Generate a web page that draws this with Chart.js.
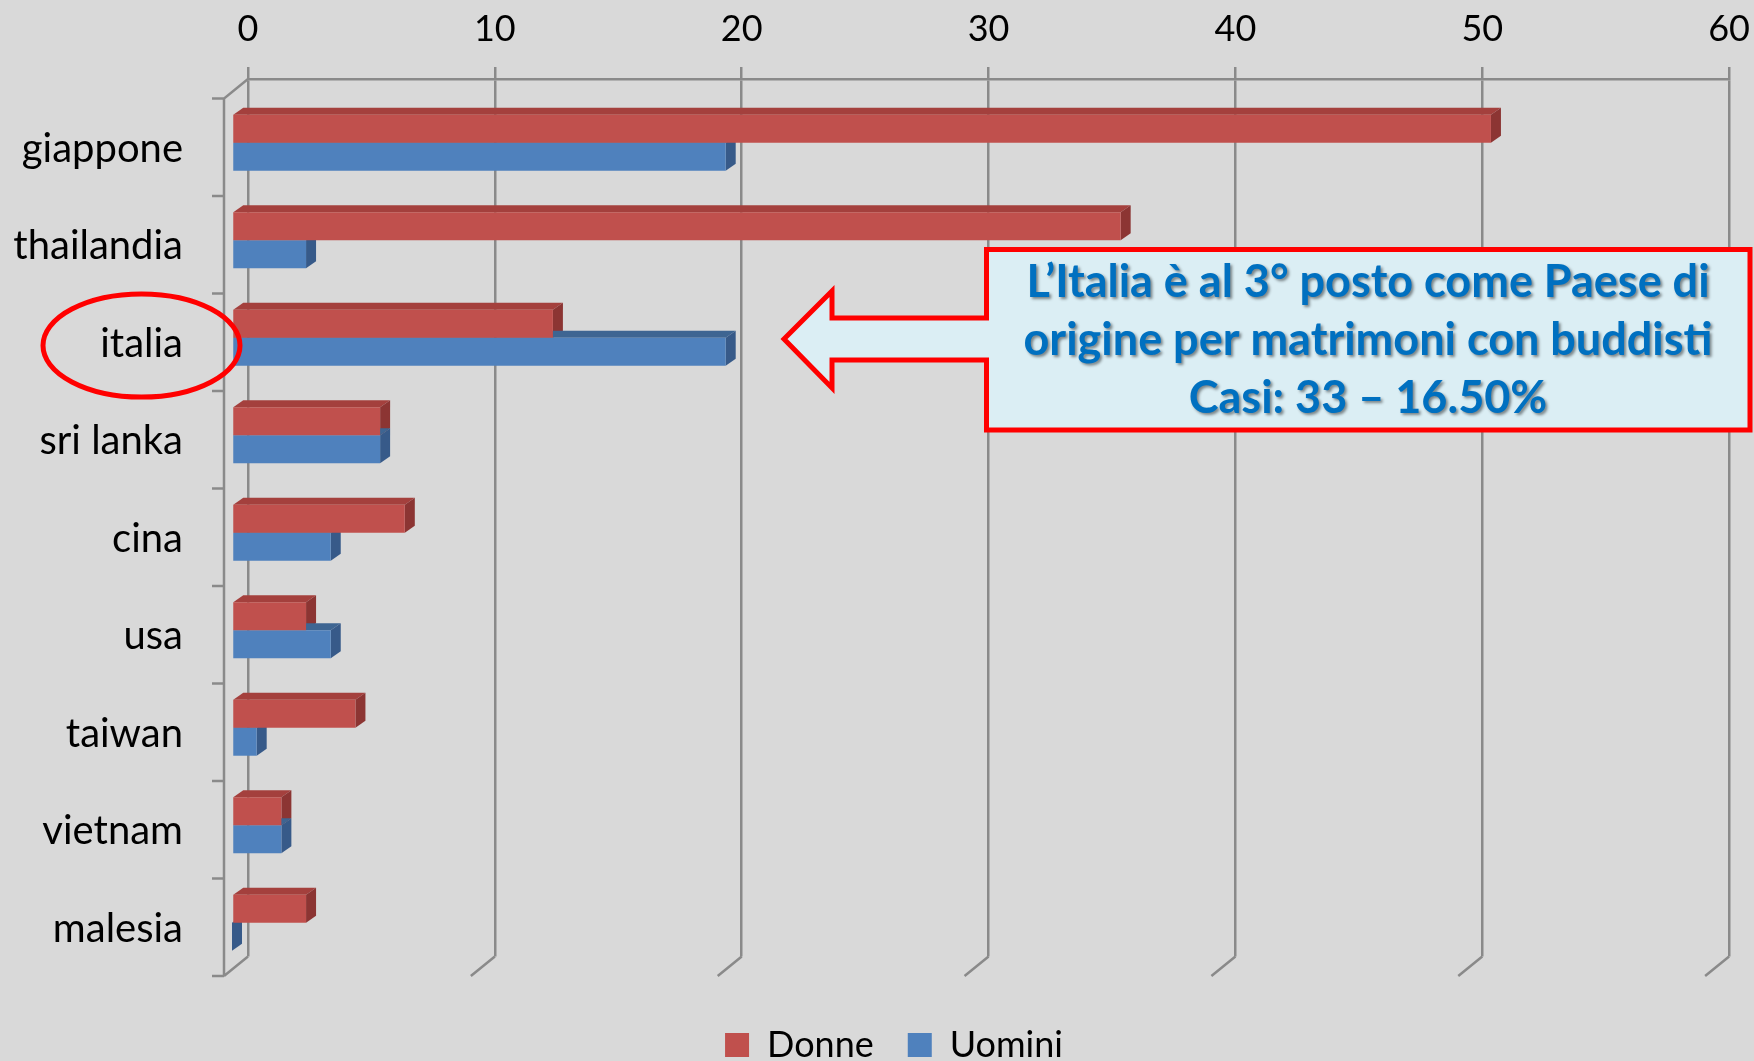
<!DOCTYPE html>
<html>
<head>
<meta charset="utf-8">
<script src="https://cdn.jsdelivr.net/npm/chart.js@4.4.1/dist/chart.umd.min.js"></script>
<style>
  html, body { margin: 0; padding: 0; background: #d9d9d9; }
  #wrap { width: 1754px; height: 1061px; position: relative; }
</style>
</head>
<body>
<div id="wrap"><canvas id="grafico"></canvas></div>
<script>
// dati
const paesi = ['giappone', 'thailandia', 'italia', 'sri lanka', 'cina', 'usa', 'taiwan', 'vietnam', 'malesia'];
const donne = [51, 36, 13, 6, 7, 3, 5, 2, 3];
const uomini = [20, 3, 20, 6, 4, 4, 1, 2, 0];
const tickValori = [0, 10, 20, 30, 40, 50, 60];
const nota = ['L’Italia è al 3° posto come Paese di', 'origine per matrimoni con buddisti', 'Casi: 33 – 16.50%'];

const GRIGIO = '#8a8a8a';
const PARETE = { x: -24, y: 19.5 };  // spostamento parete frontale
const BARRA = { x: -16, y: 15 };     // faccia frontale delle barre
const SPESSORE = { x: 10, y: -7 };   // profondità delle barre
const coloriTop = ['#a4403d', '#3e6592'];
const coloriLato = ['#8c3533', '#375a89'];

// effetto 3D: pareti + facce superiori/laterali
const prospettiva = {
    id: 'prospettiva',
    afterLayout(chart) {
        // sposta la legenda verso destra come nell'originale
        chart.legend.left += 29;
        chart.legend.right += 29;
    },
    beforeDatasetsDraw(chart) {
        const { ctx, chartArea: a, scales: { x, y } } = chart;
        const banda = y.getPixelForValue(1) - y.getPixelForValue(0);
        ctx.save();
        ctx.strokeStyle = GRIGIO;
        ctx.lineWidth = 2.5;
        ctx.beginPath();
        ctx.moveTo(a.left, a.top);
        ctx.lineTo(a.left + PARETE.x, a.top + PARETE.y);
        ctx.lineTo(a.left + PARETE.x, a.bottom + PARETE.y);
        tickValori.forEach(v => {
            const px = x.getPixelForValue(v);
            ctx.moveTo(px, a.bottom);
            ctx.lineTo(px + PARETE.x, a.bottom + PARETE.y);
        });
        for (let i = 0; i <= paesi.length; i++) {
            const py = y.getPixelForValue(0) + (i - 0.5) * banda + PARETE.y;
            ctx.moveTo(a.left + PARETE.x - 12, py);
            ctx.lineTo(a.left + PARETE.x, py);
        }
        ctx.stroke();

        ctx.translate(BARRA.x, BARRA.y);
        chart.data.datasets.forEach((ds, di) => {
            chart.getDatasetMeta(di).data.forEach(bar => {
                const top = bar.y - bar.height / 2;
                const bot = bar.y + bar.height / 2;
                ctx.fillStyle = coloriTop[di];
                ctx.beginPath();
                ctx.moveTo(bar.base, top);
                ctx.lineTo(bar.base + SPESSORE.x, top + SPESSORE.y);
                ctx.lineTo(bar.x + SPESSORE.x, top + SPESSORE.y);
                ctx.lineTo(bar.x, top);
                ctx.closePath();
                ctx.fill();
                ctx.fillStyle = coloriLato[di];
                ctx.beginPath();
                ctx.moveTo(bar.x, top);
                ctx.lineTo(bar.x + SPESSORE.x, top + SPESSORE.y);
                ctx.lineTo(bar.x + SPESSORE.x, bot + SPESSORE.y);
                ctx.lineTo(bar.x, bot);
                ctx.closePath();
                ctx.fill();
            });
        });
    },
    afterDatasetsDraw(chart) {
        chart.ctx.restore();
    }
};

// riquadro con freccia, testo e cerchio su "italia"
const annotazioni = {
    id: 'annotazioni',
    afterDraw(chart) {
        const ctx = chart.ctx;
        ctx.save();
        ctx.beginPath();
        ctx.moveTo(986.5, 249.5);
        ctx.lineTo(1750, 249.5);
        ctx.lineTo(1750, 430);
        ctx.lineTo(986.5, 430);
        ctx.lineTo(986.5, 360);
        ctx.lineTo(832, 360);
        ctx.lineTo(832, 388);
        ctx.lineTo(784, 339);
        ctx.lineTo(832, 291);
        ctx.lineTo(832, 318);
        ctx.lineTo(986.5, 318);
        ctx.closePath();
        ctx.fillStyle = '#dbeef4';
        ctx.fill();
        ctx.strokeStyle = '#ff0000';
        ctx.lineWidth = 5;
        ctx.lineJoin = 'miter';
        ctx.stroke();

        ctx.font = 'bold 45px Lato';
        ctx.fillStyle = '#0070c0';
        ctx.textAlign = 'center';
        ctx.textBaseline = 'alphabetic';
        ctx.shadowColor = 'rgba(0,0,0,0.45)';
        ctx.shadowOffsetX = 2;
        ctx.shadowOffsetY = 2;
        ctx.shadowBlur = 3;
        nota.forEach((riga, i) => ctx.fillText(riga, 1368, 297 + i * 58));
        ctx.restore();

        ctx.save();
        ctx.beginPath();
        ctx.ellipse(141.5, 345.5, 98.5, 51.5, 0, 0, Math.PI * 2);
        ctx.strokeStyle = '#ff0000';
        ctx.lineWidth = 5;
        ctx.stroke();
        ctx.restore();
    }
};

new Chart(document.getElementById('grafico'), {
    type: 'bar',
    data: {
        labels: paesi,
        datasets: [
            { label: 'Donne', data: donne, backgroundColor: '#c0504d', borderWidth: 0,
              categoryPercentage: 0.574, barPercentage: 1 },
            { label: 'Uomini', data: uomini, backgroundColor: '#4f81bd', borderWidth: 0,
              categoryPercentage: 0.574, barPercentage: 1 }
        ]
    },
    options: {
        indexAxis: 'y',
        responsive: true,
        maintainAspectRatio: false,
        animation: false,
        clip: false,
        layout: { padding: { left: 0, right: 24, top: 0, bottom: -12 } },
        plugins: {
            tooltip: { enabled: false },
            legend: {
                position: 'bottom',
                labels: {
                    boxWidth: 24, boxHeight: 24, padding: 34, color: '#000',
                    font: { family: 'Lato', size: 36 }
                },
                title: { display: true, text: '', padding: { top: 24.5, bottom: 0 }, font: { size: 10 } }
            }
        },
        scales: {
            x: {
                position: 'top',
                min: 0,
                max: 60,
                ticks: { stepSize: 10, color: '#000', padding: 4, font: { family: 'Lato', size: 36, lineHeight: 1.85 } },
                grid: { color: GRIGIO, lineWidth: 2.5, tickLength: 12 },
                border: { display: true, color: GRIGIO, width: 2.5 },
                afterFit: s => { s.height = 79; }
            },
            y: {
                ticks: { color: '#000', padding: 0, labelOffset: 21, font: { family: 'Lato', size: 40 } },
                grid: { display: false, drawTicks: true, tickLength: 65 },
                border: { display: false },
                afterFit: s => { s.width = 248; }
            }
        }
    },
    plugins: [prospettiva, annotazioni]
});
</script>
</body>
</html>
